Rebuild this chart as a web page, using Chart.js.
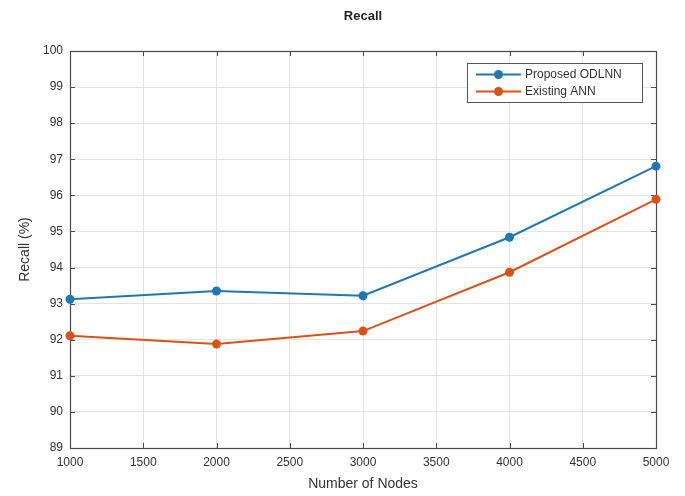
<!DOCTYPE html>
<html>
<head>
<meta charset="utf-8">
<script src="https://cdn.jsdelivr.net/npm/chart.js@4/dist/chart.umd.min.js"></script>
<style>
  html, body { margin: 0; padding: 0; background: #fff; }
  #wrap { width: 685px; height: 496px; }
</style>
</head>
<body>
<div id="wrap"><canvas id="chart" width="685" height="496"></canvas></div>
<script>
// values
const nodes = [1000, 2000, 3000, 4000, 5000]
const proposedOdlnn = [93.12, 93.35, 93.22, 94.84, 96.81]
const existingAnn = [92.11, 91.88, 92.24, 93.87, 95.89]
const seriesLabels = ['Proposed ODLNN', 'Existing ANN']

const BLUE = '#1f77b4'
const ORANGE = '#d95319'
const AXIS = '#4a4a4a'
const TEXT = '#333333'
const FONT = "'Liberation Sans', Arial, sans-serif"

function toPoints(xs, ys) {
  return xs.map((x, i) => ({ x: x, y: ys[i] }))
}

function lineSet(label, values, color) {
  return {
    label: label,
    data: toPoints(nodes, values),
    borderColor: color,
    backgroundColor: color,
    borderWidth: 2,
    pointRadius: 4.5,
    pointHoverRadius: 4.5,
    pointBorderWidth: 0,
    tension: 0,
    clip: false
  }
}

// MATLAB-style box with inward ticks on all four sides
const matlabBox = {
  id: 'matlabBox',
  beforeDatasetsDraw(chart) {
    const { ctx, chartArea: a, scales } = chart
    const len = 5
    ctx.save()
    ctx.strokeStyle = AXIS
    ctx.lineWidth = 1
    ctx.beginPath()
    scales.x.ticks.forEach(t => {
      const px = Math.round(scales.x.getPixelForValue(t.value)) + 0.5
      ctx.moveTo(px, a.bottom); ctx.lineTo(px, a.bottom - len)
      ctx.moveTo(px, a.top); ctx.lineTo(px, a.top + len)
    })
    scales.y.ticks.forEach(t => {
      const py = Math.round(scales.y.getPixelForValue(t.value)) + 0.5
      ctx.moveTo(a.left, py); ctx.lineTo(a.left + len, py)
      ctx.moveTo(a.right, py); ctx.lineTo(a.right - len, py)
    })
    ctx.stroke()
    ctx.lineWidth = 1.2
    ctx.strokeRect(Math.round(a.left) + 0.5, Math.round(a.top) + 0.5,
      Math.round(a.right - a.left), Math.round(a.bottom - a.top))
    ctx.restore()
  },
  afterDatasetsDraw(chart) {
    // legend box in the upper right corner of the axes
    const { ctx, chartArea: a } = chart
    const w = 175, h = 39
    const x0 = a.right - 14 - w, y0 = a.top + 12
    ctx.save()
    ctx.fillStyle = '#fff'
    ctx.fillRect(x0, y0, w, h)
    ctx.strokeStyle = '#555'
    ctx.lineWidth = 1
    ctx.strokeRect(x0 + 0.5, y0 + 0.5, w, h)
    chart.data.datasets.forEach((ds, i) => {
      const cy = y0 + 11.5 + i * 17
      ctx.strokeStyle = ds.borderColor
      ctx.lineWidth = 2
      ctx.beginPath()
      ctx.moveTo(x0 + 9, cy)
      ctx.lineTo(x0 + 54, cy)
      ctx.stroke()
      ctx.fillStyle = ds.borderColor
      ctx.beginPath()
      ctx.arc(x0 + 31.5, cy, 4.5, 0, Math.PI * 2)
      ctx.fill()
      ctx.fillStyle = TEXT
      ctx.font = '12px ' + FONT
      ctx.textBaseline = 'middle'
      ctx.textAlign = 'left'
      ctx.fillText(ds.label, x0 + 58, cy + 0.5)
    })
    ctx.restore()
  }
}

const ctx = document.getElementById('chart').getContext('2d')
new Chart(ctx, {
  type: 'line',
  data: {
    datasets: [
      lineSet(seriesLabels[0], proposedOdlnn, BLUE),
      lineSet(seriesLabels[1], existingAnn, ORANGE)
    ]
  },
  options: {
    responsive: false,
    animation: false,
    layout: { padding: { top: 0, right: 29, bottom: 0, left: 0 } },
    plugins: {
      legend: { display: false },
      tooltip: { enabled: false },
      title: {
        display: true,
        text: 'Recall',
        fullSize: false,
        color: '#222',
        font: { family: FONT, size: 13, weight: 'bold' },
        padding: { top: 9, bottom: 26.4 }
      }
    },
    scales: {
      x: {
        type: 'linear',
        min: 1000,
        max: 5000,
        afterFit(scale) { scale.height = 48 },
        border: { display: false },
        grid: { color: '#e4e4e4', drawTicks: false },
        ticks: {
          stepSize: 500,
          padding: 7,
          color: TEXT,
          maxRotation: 0,
          font: { family: FONT, size: 12 },
          callback: v => String(v)
        },
        title: {
          display: true,
          text: 'Number of Nodes',
          color: TEXT,
          font: { family: FONT, size: 14 },
          padding: { top: 0, bottom: 3 }
        }
      },
      y: {
        min: 89,
        max: 100,
        afterFit(scale) { scale.width = 70 },
        border: { display: false },
        grid: { color: '#e4e4e4', drawTicks: false },
        ticks: {
          stepSize: 1,
          padding: 7,
          color: TEXT,
          font: { family: FONT, size: 12 }
        },
        title: {
          display: true,
          text: 'Recall (%)',
          color: TEXT,
          font: { family: FONT, size: 14 },
          padding: { top: 16.6, bottom: 0 }
        }
      }
    }
  },
  plugins: [matlabBox]
})
</script>
</body>
</html>
